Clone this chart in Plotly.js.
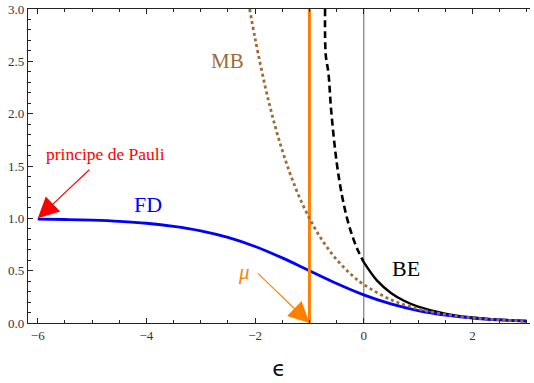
<!DOCTYPE html>
<html>
<head>
<meta charset="utf-8">
<script src="https://cdn.plot.ly/plotly-3.0.1.min.js"></script>
<style>html,body{margin:0;padding:0;background:#fff;}#chart{width:534px;height:383px;}</style>
</head>
<body>
<div id="chart"></div>
<script>
// Fermi-Dirac
const fdX = [-6, -5.5, -5, -4.5, -4, -3.5, -3, -2.5, -2, -1.5, -1, -0.5, 0, 0.5, 1, 1.5, 2, 2.5, 3];
const fdY = [0.993, 0.989, 0.982, 0.971, 0.953, 0.924, 0.881, 0.818, 0.731, 0.622, 0.5, 0.378, 0.269, 0.182, 0.119, 0.076, 0.047, 0.029, 0.018];
// Maxwell-Boltzmann
const mbX = [-2.1, -2, -1.75, -1.5, -1.25, -1, -0.75, -0.5, -0.25, 0, 0.5, 1, 1.5, 2, 2.5, 3];
const mbY = [3.0, 2.718, 2.117, 1.649, 1.284, 1.0, 0.779, 0.607, 0.472, 0.368, 0.223, 0.135, 0.082, 0.050, 0.030, 0.018];
// Bose-Einstein, dashed part (x < 0) and solid part (x > 0)
const beDashX = [-0.712, -0.7, -0.65, -0.6, -0.5, -0.4, -0.3, -0.2, -0.1, 0];
const beDashY = [3.0, 2.565, 2.387, 2.033, 1.541, 1.216, 0.986, 0.816, 0.685, 0.582];
const beX = [0, 0.25, 0.5, 0.75, 1, 1.5, 2, 2.5, 3];
const beY = [0.582, 0.402, 0.287, 0.210, 0.157, 0.089, 0.052, 0.031, 0.019];
// chemical potential
const muX = [-1, -1];
const muY = [0, 3];
// axis ticks
const xTicks = [-6, -4, -2, 0, 2];
const yTicks = [0, 0.5, 1, 1.5, 2, 2.5, 3];
const yTickText = ["0.0", "0.5", "1.0", "1.5", "2.0", "2.5", "3.0"];

const serif = "Liberation Serif";

const traces = [
  {x: beDashX, y: beDashY, mode: 'lines', line: {color: '#000', width: 2.6, dash: '7px,4px', shape: 'spline'}, hoverinfo: 'skip'},
  {x: beX, y: beY, mode: 'lines', line: {color: '#000', width: 2.4, shape: 'spline'}, hoverinfo: 'skip'},
  {x: fdX, y: fdY, mode: 'lines', line: {color: '#0000ff', width: 2.8, shape: 'spline'}, hoverinfo: 'skip'},
  {x: muX, y: muY, mode: 'lines', line: {color: '#ff8000', width: 3}, hoverinfo: 'skip'},
  {x: mbX, y: mbY, mode: 'lines', line: {color: '#a06a35', width: 2.8, dash: '3px,3px', shape: 'spline'}, hoverinfo: 'skip'}
];

const layout = {
  width: 534, height: 383,
  margin: {l: 28, r: 4, t: 9, b: 60},
  paper_bgcolor: '#fff', plot_bgcolor: '#fff',
  showlegend: false,
  font: {family: serif},
  xaxis: {
    range: [-6.18, 3.06], showgrid: false, zeroline: false,
    showline: true, linecolor: '#222', linewidth: 1.2, mirror: 'ticks',
    ticks: 'inside', ticklen: 5, tickwidth: 1, tickcolor: '#222',
    tickvals: xTicks, tickfont: {family: serif, size: 13, color: '#333'},
    minor: {dtick: 0.5, tick0: 0, ticks: 'inside', ticklen: 3, tickcolor: '#222', tickwidth: 1},
    title: {text: 'ϵ', font: {family: "DejaVu Sans", size: 22, color: '#111'}, standoff: 18}
  },
  yaxis: {
    range: [0, 3], showgrid: false, zeroline: false,
    showline: true, linecolor: '#222', linewidth: 1.2, mirror: false,
    ticks: 'inside', ticklen: 5, tickwidth: 1, tickcolor: '#222',
    tickvals: yTicks, ticktext: yTickText, tickfont: {family: serif, size: 13, color: '#333'},
    minor: {dtick: 0.1, tick0: 0, ticks: 'inside', ticklen: 3, tickcolor: '#222', tickwidth: 1}
  },
  shapes: [
    {type: 'line', xref: 'x', yref: 'y', x0: 0, x1: 0, y0: 0, y1: 3, line: {color: '#888', width: 1.3}, layer: 'below'}
  ],
  annotations: [
    {x: -2.51, y: 2.50, text: 'MB', showarrow: false, font: {family: serif, size: 21, color: '#a06a35'}},
    {x: -3.97, y: 1.13, text: 'FD', showarrow: false, font: {family: serif, size: 22, color: '#0000ff'}},
    {x: 0.77, y: 0.52, text: 'BE', showarrow: false, font: {family: serif, size: 22, color: '#000'}},
    {x: -2.20, y: 0.49, text: '<i>μ</i>', showarrow: false, font: {family: serif, size: 21, color: '#ff8000'}},
    {x: -4.75, y: 1.61, text: 'principe de Pauli', showarrow: false, font: {family: serif, size: 17.5, color: '#ff0000'}},
    {x: -6, y: 1, text: '', showarrow: true, arrowhead: 2, arrowsize: 3.8, arrowwidth: 1.1, arrowcolor: '#ff0000', ax: 53, ay: -50, standoff: 0},
    {x: -1, y: 0, text: '', showarrow: true, arrowhead: 2, arrowsize: 3.8, arrowwidth: 1.1, arrowcolor: '#ff8000', ax: -53, ay: -51, standoff: 0}
  ]
};

Plotly.newPlot('chart', traces, layout, {displayModeBar: false, staticPlot: true});
</script>
</body>
</html>
